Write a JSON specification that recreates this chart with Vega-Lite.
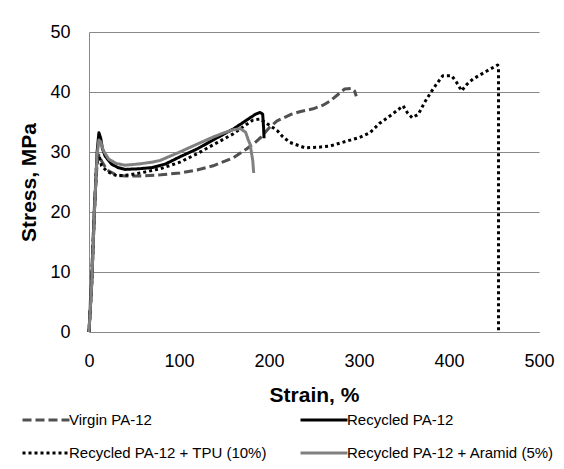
{
  "$schema": "https://vega.github.io/schema/vega-lite/v6.json",
  "width": 450,
  "height": 300,
  "autosize": {"type": "none"},
  "padding": {"left": 89, "top": 32, "right": 25, "bottom": 138},
  "background": "white",
  "config": {
    "view": {"stroke": null},
    "font": "Liberation Sans",
    "axis": {"labelFont": "Liberation Sans", "titleFont": "Liberation Sans"}
  },
  "data": {
    "values": [
      {"s": "Virgin PA-12", "i": 1, "x": 0, "y": 0},
      {"s": "Virgin PA-12", "i": 2, "x": 3, "y": 10},
      {"s": "Virgin PA-12", "i": 3, "x": 6, "y": 21},
      {"s": "Virgin PA-12", "i": 4, "x": 9, "y": 28},
      {"s": "Virgin PA-12", "i": 5, "x": 11, "y": 29.5},
      {"s": "Virgin PA-12", "i": 6, "x": 14, "y": 28.5},
      {"s": "Virgin PA-12", "i": 7, "x": 20, "y": 27},
      {"s": "Virgin PA-12", "i": 8, "x": 30, "y": 26.2},
      {"s": "Virgin PA-12", "i": 9, "x": 40, "y": 26},
      {"s": "Virgin PA-12", "i": 10, "x": 60, "y": 26},
      {"s": "Virgin PA-12", "i": 11, "x": 80, "y": 26.2},
      {"s": "Virgin PA-12", "i": 12, "x": 101, "y": 26.5},
      {"s": "Virgin PA-12", "i": 13, "x": 120, "y": 27},
      {"s": "Virgin PA-12", "i": 14, "x": 138, "y": 27.7},
      {"s": "Virgin PA-12", "i": 15, "x": 160, "y": 29},
      {"s": "Virgin PA-12", "i": 16, "x": 175, "y": 30.5},
      {"s": "Virgin PA-12", "i": 17, "x": 184, "y": 31.5},
      {"s": "Virgin PA-12", "i": 18, "x": 190, "y": 32.3},
      {"s": "Virgin PA-12", "i": 19, "x": 200, "y": 34},
      {"s": "Virgin PA-12", "i": 20, "x": 209, "y": 35.2},
      {"s": "Virgin PA-12", "i": 21, "x": 225, "y": 36.3},
      {"s": "Virgin PA-12", "i": 22, "x": 234, "y": 36.7},
      {"s": "Virgin PA-12", "i": 23, "x": 249, "y": 37.2},
      {"s": "Virgin PA-12", "i": 24, "x": 260, "y": 37.8},
      {"s": "Virgin PA-12", "i": 25, "x": 268, "y": 38.5},
      {"s": "Virgin PA-12", "i": 26, "x": 276, "y": 39.5},
      {"s": "Virgin PA-12", "i": 27, "x": 284, "y": 40.5},
      {"s": "Virgin PA-12", "i": 28, "x": 292, "y": 40.6},
      {"s": "Virgin PA-12", "i": 29, "x": 295, "y": 40.2},
      {"s": "Virgin PA-12", "i": 30, "x": 297, "y": 39.3},

      {"s": "Recycled PA-12", "i": 1, "x": 0, "y": 0},
      {"s": "Recycled PA-12", "i": 2, "x": 3, "y": 8},
      {"s": "Recycled PA-12", "i": 3, "x": 6, "y": 20},
      {"s": "Recycled PA-12", "i": 4, "x": 9, "y": 30},
      {"s": "Recycled PA-12", "i": 5, "x": 11, "y": 33.2},
      {"s": "Recycled PA-12", "i": 6, "x": 13, "y": 32.3},
      {"s": "Recycled PA-12", "i": 7, "x": 15, "y": 30.5},
      {"s": "Recycled PA-12", "i": 8, "x": 18, "y": 29.3},
      {"s": "Recycled PA-12", "i": 9, "x": 25, "y": 28},
      {"s": "Recycled PA-12", "i": 10, "x": 32, "y": 27.4},
      {"s": "Recycled PA-12", "i": 11, "x": 40, "y": 27.1},
      {"s": "Recycled PA-12", "i": 12, "x": 55, "y": 27.2},
      {"s": "Recycled PA-12", "i": 13, "x": 70, "y": 27.4},
      {"s": "Recycled PA-12", "i": 14, "x": 85, "y": 28},
      {"s": "Recycled PA-12", "i": 15, "x": 101, "y": 29.2},
      {"s": "Recycled PA-12", "i": 16, "x": 120, "y": 30.5},
      {"s": "Recycled PA-12", "i": 17, "x": 138, "y": 32},
      {"s": "Recycled PA-12", "i": 18, "x": 150, "y": 33},
      {"s": "Recycled PA-12", "i": 19, "x": 160, "y": 33.8},
      {"s": "Recycled PA-12", "i": 20, "x": 175, "y": 35.3},
      {"s": "Recycled PA-12", "i": 21, "x": 185, "y": 36.3},
      {"s": "Recycled PA-12", "i": 22, "x": 190, "y": 36.6},
      {"s": "Recycled PA-12", "i": 23, "x": 193, "y": 36.3},
      {"s": "Recycled PA-12", "i": 24, "x": 194, "y": 34},
      {"s": "Recycled PA-12", "i": 25, "x": 194.5, "y": 32.3},

      {"s": "Recycled PA-12 + TPU (10%)", "i": 1, "x": 0, "y": 0},
      {"s": "Recycled PA-12 + TPU (10%)", "i": 2, "x": 3, "y": 8},
      {"s": "Recycled PA-12 + TPU (10%)", "i": 3, "x": 6, "y": 20},
      {"s": "Recycled PA-12 + TPU (10%)", "i": 4, "x": 8, "y": 27},
      {"s": "Recycled PA-12 + TPU (10%)", "i": 5, "x": 10, "y": 29.5},
      {"s": "Recycled PA-12 + TPU (10%)", "i": 6, "x": 12, "y": 29},
      {"s": "Recycled PA-12 + TPU (10%)", "i": 7, "x": 14, "y": 27.7},
      {"s": "Recycled PA-12 + TPU (10%)", "i": 8, "x": 20, "y": 26.8},
      {"s": "Recycled PA-12 + TPU (10%)", "i": 9, "x": 26, "y": 26.3},
      {"s": "Recycled PA-12 + TPU (10%)", "i": 10, "x": 32, "y": 26},
      {"s": "Recycled PA-12 + TPU (10%)", "i": 11, "x": 45, "y": 26.2},
      {"s": "Recycled PA-12 + TPU (10%)", "i": 12, "x": 60, "y": 26.6},
      {"s": "Recycled PA-12 + TPU (10%)", "i": 13, "x": 79, "y": 27.2},
      {"s": "Recycled PA-12 + TPU (10%)", "i": 14, "x": 101, "y": 28.3},
      {"s": "Recycled PA-12 + TPU (10%)", "i": 15, "x": 120, "y": 29.7},
      {"s": "Recycled PA-12 + TPU (10%)", "i": 16, "x": 138, "y": 31.2},
      {"s": "Recycled PA-12 + TPU (10%)", "i": 17, "x": 160, "y": 33},
      {"s": "Recycled PA-12 + TPU (10%)", "i": 18, "x": 175, "y": 34.6},
      {"s": "Recycled PA-12 + TPU (10%)", "i": 19, "x": 182, "y": 35.3},
      {"s": "Recycled PA-12 + TPU (10%)", "i": 20, "x": 190, "y": 35.5},
      {"s": "Recycled PA-12 + TPU (10%)", "i": 21, "x": 198, "y": 34.7},
      {"s": "Recycled PA-12 + TPU (10%)", "i": 22, "x": 209, "y": 33.6},
      {"s": "Recycled PA-12 + TPU (10%)", "i": 23, "x": 215, "y": 32.6},
      {"s": "Recycled PA-12 + TPU (10%)", "i": 24, "x": 223, "y": 31.6},
      {"s": "Recycled PA-12 + TPU (10%)", "i": 25, "x": 240, "y": 30.7},
      {"s": "Recycled PA-12 + TPU (10%)", "i": 26, "x": 255, "y": 30.8},
      {"s": "Recycled PA-12 + TPU (10%)", "i": 27, "x": 268, "y": 31},
      {"s": "Recycled PA-12 + TPU (10%)", "i": 28, "x": 286, "y": 31.8},
      {"s": "Recycled PA-12 + TPU (10%)", "i": 29, "x": 300, "y": 32.4},
      {"s": "Recycled PA-12 + TPU (10%)", "i": 30, "x": 312, "y": 33.2},
      {"s": "Recycled PA-12 + TPU (10%)", "i": 31, "x": 323, "y": 34.8},
      {"s": "Recycled PA-12 + TPU (10%)", "i": 32, "x": 337, "y": 36.3},
      {"s": "Recycled PA-12 + TPU (10%)", "i": 33, "x": 349, "y": 37.7},
      {"s": "Recycled PA-12 + TPU (10%)", "i": 34, "x": 354, "y": 36.5},
      {"s": "Recycled PA-12 + TPU (10%)", "i": 35, "x": 359, "y": 35.7},
      {"s": "Recycled PA-12 + TPU (10%)", "i": 36, "x": 366, "y": 36.3},
      {"s": "Recycled PA-12 + TPU (10%)", "i": 37, "x": 373, "y": 38.3},
      {"s": "Recycled PA-12 + TPU (10%)", "i": 38, "x": 381, "y": 40.2},
      {"s": "Recycled PA-12 + TPU (10%)", "i": 39, "x": 387, "y": 41.5},
      {"s": "Recycled PA-12 + TPU (10%)", "i": 40, "x": 393, "y": 42.7},
      {"s": "Recycled PA-12 + TPU (10%)", "i": 41, "x": 403, "y": 42.7},
      {"s": "Recycled PA-12 + TPU (10%)", "i": 42, "x": 408, "y": 41.7},
      {"s": "Recycled PA-12 + TPU (10%)", "i": 43, "x": 414, "y": 40.2},
      {"s": "Recycled PA-12 + TPU (10%)", "i": 44, "x": 420, "y": 41.3},
      {"s": "Recycled PA-12 + TPU (10%)", "i": 45, "x": 427, "y": 42.2},
      {"s": "Recycled PA-12 + TPU (10%)", "i": 46, "x": 442, "y": 43.5},
      {"s": "Recycled PA-12 + TPU (10%)", "i": 47, "x": 454, "y": 44.5},
      {"s": "Recycled PA-12 + TPU (10%)", "i": 48, "x": 455, "y": 44.3},
      {"s": "Recycled PA-12 + TPU (10%)", "i": 49, "x": 455, "y": 0},

      {"s": "Recycled PA-12 + Aramid (5%)", "i": 1, "x": 0, "y": 0},
      {"s": "Recycled PA-12 + Aramid (5%)", "i": 2, "x": 3, "y": 8},
      {"s": "Recycled PA-12 + Aramid (5%)", "i": 3, "x": 6, "y": 20},
      {"s": "Recycled PA-12 + Aramid (5%)", "i": 4, "x": 9, "y": 29.5},
      {"s": "Recycled PA-12 + Aramid (5%)", "i": 5, "x": 11, "y": 32},
      {"s": "Recycled PA-12 + Aramid (5%)", "i": 6, "x": 13, "y": 31.7},
      {"s": "Recycled PA-12 + Aramid (5%)", "i": 7, "x": 16, "y": 30.2},
      {"s": "Recycled PA-12 + Aramid (5%)", "i": 8, "x": 22, "y": 28.8},
      {"s": "Recycled PA-12 + Aramid (5%)", "i": 9, "x": 30, "y": 28.1},
      {"s": "Recycled PA-12 + Aramid (5%)", "i": 10, "x": 40, "y": 27.8},
      {"s": "Recycled PA-12 + Aramid (5%)", "i": 11, "x": 55, "y": 28},
      {"s": "Recycled PA-12 + Aramid (5%)", "i": 12, "x": 70, "y": 28.3},
      {"s": "Recycled PA-12 + Aramid (5%)", "i": 13, "x": 79, "y": 28.6},
      {"s": "Recycled PA-12 + Aramid (5%)", "i": 14, "x": 101, "y": 30},
      {"s": "Recycled PA-12 + Aramid (5%)", "i": 15, "x": 120, "y": 31.3},
      {"s": "Recycled PA-12 + Aramid (5%)", "i": 16, "x": 138, "y": 32.5},
      {"s": "Recycled PA-12 + Aramid (5%)", "i": 17, "x": 150, "y": 33.2},
      {"s": "Recycled PA-12 + Aramid (5%)", "i": 18, "x": 160, "y": 33.7},
      {"s": "Recycled PA-12 + Aramid (5%)", "i": 19, "x": 168, "y": 33.9},
      {"s": "Recycled PA-12 + Aramid (5%)", "i": 20, "x": 174, "y": 33.3},
      {"s": "Recycled PA-12 + Aramid (5%)", "i": 21, "x": 177, "y": 32},
      {"s": "Recycled PA-12 + Aramid (5%)", "i": 22, "x": 179, "y": 31.3},
      {"s": "Recycled PA-12 + Aramid (5%)", "i": 23, "x": 182, "y": 28.5},
      {"s": "Recycled PA-12 + Aramid (5%)", "i": 24, "x": 183, "y": 26.5}
    ]
  },
  "mark": {"type": "line", "strokeCap": "butt", "strokeJoin": "round", "clip": false},
  "encoding": {
    "x": {
      "field": "x", "type": "quantitative",
      "scale": {"domain": [0, 500], "nice": false, "zero": false},
      "axis": {
        "title": "Strain, %", "values": [0, 100, 200, 300, 400, 500],
        "grid": false, "ticks": false, "domainColor": "#888888", "labelFlush": false,
        "labelFontSize": 18, "labelColor": "#000", "labelPadding": 20,
        "titleFontSize": 21, "titleFontWeight": "bold", "titleColor": "#000", "titlePadding": 14
      }
    },
    "y": {
      "field": "y", "type": "quantitative",
      "scale": {"domain": [0, 50], "nice": false},
      "axis": {
        "title": "Stress, MPa", "values": [0, 10, 20, 30, 40, 50],
        "grid": true, "gridColor": "#888888", "ticks": false, "domainColor": "#888888", "labelFlush": false,
        "labelFontSize": 18, "labelColor": "#000", "labelPadding": 19,
        "titleFontSize": 21, "titleFontWeight": "bold", "titleColor": "#000", "titlePadding": 10
      }
    },
    "order": {"field": "i", "type": "quantitative"},
    "color": {
      "field": "s", "type": "nominal",
      "scale": {
        "domain": ["Virgin PA-12", "Recycled PA-12", "Recycled PA-12 + TPU (10%)", "Recycled PA-12 + Aramid (5%)"],
        "range": ["#505050", "#000000", "#000000", "#808080"]
      },
      "legend": {
        "title": null, "orient": "none", "legendX": -68, "legendY": 363,
        "direction": "horizontal", "columns": 2, "columnPadding": 27, "rowPadding": 0,
        "symbolType": "stroke", "symbolSize": 2209, "labelOffset": -2,
        "labelFontSize": 15, "labelColor": "#000", "labelLimit": 300
      }
    },
    "strokeDash": {
      "field": "s", "type": "nominal",
      "scale": {
        "domain": ["Virgin PA-12", "Recycled PA-12", "Recycled PA-12 + TPU (10%)", "Recycled PA-12 + Aramid (5%)"],
        "range": [[9, 4], [1, 0], [3, 3], [1, 0]]
      }
    },
    "strokeWidth": {
      "field": "s", "type": "nominal",
      "scale": {
        "domain": ["Virgin PA-12", "Recycled PA-12", "Recycled PA-12 + TPU (10%)", "Recycled PA-12 + Aramid (5%)"],
        "range": [3, 3, 3, 2]
      }
    }
  }
}
